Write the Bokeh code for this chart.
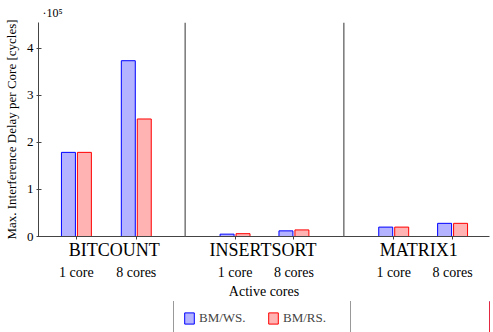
from bokeh.plotting import figure
from bokeh.layouts import column
from bokeh.models import (Range1d, Span, Legend, LegendItem, FixedTicker,
                          LinearAxis, ColumnDataSource, Title)
from bokeh.embed import file_html
from bokeh.resources import INLINE

# Benchmarks and active-core configurations
benchmarks = ["BITCOUNT", "INSERTSORT", "MATRIX1"]
core_labels = ["1 core", "8 cores", "1 core", "8 cores", "1 core", "8 cores"]
# Max. interference delay per core, in units of 1e5 cycles
bm_ws = [1.79, 3.74, 0.05, 0.12, 0.20, 0.28]
bm_rs = [1.79, 2.50, 0.06, 0.14, 0.20, 0.28]
y_ticks = [0, 1, 2, 3, 4]
series_names = ["BM/WS.", "BM/RS."]

# Layout (x in screen-pixel-sized units)
slot_x = [38, 98, 197, 256, 356, 415]
sep_x = [147, 306]
group_x = [76, 225, 381]
bar_w = 14
bar_off = 8

FONT = "Liberation Serif"
AXIS_COLOR = "#444444"
WS_STYLE = dict(fill_color="#b3b3ff", line_color="#0000ff", line_width=1)
RS_STYLE = dict(fill_color="#ffb3b3", line_color="#ff0000", line_width=1)

p = figure(width=493, height=301, output_backend="svg",
           toolbar_location=None,
           x_range=Range1d(0, 452), y_range=Range1d(0, 4.553),
           x_axis_location=None,
           min_border_left=34, min_border_right=4, min_border_top=22,
           min_border_bottom=0)
p.outline_line_color = None
p.xgrid.visible = False
p.ygrid.visible = False

src = ColumnDataSource(dict(
    x_ws=[x - bar_off for x in slot_x],
    x_rs=[x + bar_off for x in slot_x],
    ws=bm_ws, rs=bm_rs))

p.vbar(x="x_ws", top="ws", width=bar_w, source=src, **WS_STYLE)
p.vbar(x="x_rs", top="rs", width=bar_w, source=src, **RS_STYLE)

for sx in sep_x:
    p.add_layout(Span(location=sx, dimension="height", line_color="#777777",
                      line_width=1.5))

# y axis
ya = p.yaxis[0]
ya.ticker = FixedTicker(ticks=y_ticks)
ya.minor_tick_line_color = None
ya.major_tick_in = 3
ya.major_tick_out = 2
ya.axis_line_color = AXIS_COLOR
ya.major_tick_line_color = AXIS_COLOR
ya.major_label_text_font = FONT
ya.major_label_text_font_size = "13px"
ya.major_label_text_color = "black"
ya.major_label_standoff = 3
ya.axis_label = "Max. Interference Delay per Core [cycles]"
ya.axis_label_text_font = FONT
ya.axis_label_text_font_style = "normal"
ya.axis_label_text_font_size = "13px"
ya.axis_label_text_color = "black"
ya.axis_label_standoff = 5

# x axis line with a tick under every configuration
x_line = LinearAxis(ticker=FixedTicker(ticks=slot_x),
                    major_label_overrides={x: "" for x in slot_x},
                    major_label_text_font_size="1px",
                    major_label_standoff=0,
                    major_tick_in=0, major_tick_out=3,
                    minor_tick_line_color=None,
                    axis_line_color=AXIS_COLOR,
                    major_tick_line_color=AXIS_COLOR)
p.add_layout(x_line, "below")

# benchmark names
x_names = LinearAxis(ticker=FixedTicker(ticks=group_x),
                     major_label_overrides={x: n for x, n in zip(group_x, benchmarks)},
                     major_label_text_font=FONT,
                     major_label_text_font_size="18px",
                     major_label_text_color="black",
                     major_label_standoff=0,
                     major_tick_in=0, major_tick_out=0,
                     major_tick_line_color=None,
                     minor_tick_line_color=None,
                     axis_line_color=None)
p.add_layout(x_names, "below")

# core counts and axis title
x_cores = LinearAxis(ticker=FixedTicker(ticks=slot_x),
                     major_label_overrides={x: lab for x, lab in zip(slot_x, core_labels)},
                     major_label_text_font=FONT,
                     major_label_text_font_size="14px",
                     major_label_text_color="black",
                     major_label_standoff=2,
                     major_tick_in=0, major_tick_out=0,
                     major_tick_line_color=None,
                     minor_tick_line_color=None,
                     axis_line_color=None,
                     axis_label="Active cores",
                     axis_label_text_font=FONT,
                     axis_label_text_font_style="normal",
                     axis_label_text_font_size="14px",
                     axis_label_text_color="black",
                     axis_label_standoff=1)
p.add_layout(x_cores, "below")

# axis multiplier above the y axis
p.add_layout(Title(text="·10⁵", align="left", offset=4, standoff=6,
                   text_font=FONT, text_font_size="12px",
                   text_font_style="normal", text_color="black"), "above")

# legend strip under the chart; its bar renderers share the data but sit
# outside the strip's visible range, so only the legend entries show
lg = figure(width=493, height=40, output_backend="svg", toolbar_location=None,
            x_range=Range1d(-2000, -1000), y_range=Range1d(0, 1),
            min_border=0, x_axis_location=None, y_axis_location=None)
lg.outline_line_color = None
lg.xgrid.visible = False
lg.ygrid.visible = False
k_ws = lg.vbar(x="x_ws", top="ws", width=bar_w, source=src, **WS_STYLE)
k_rs = lg.vbar(x="x_rs", top="rs", width=bar_w, source=src, **RS_STYLE)

legend = Legend(items=[LegendItem(label=series_names[0], renderers=[k_ws]),
                       LegendItem(label=series_names[1], renderers=[k_rs])],
                orientation="horizontal", location=(135, 5),
                label_text_font=FONT, label_text_font_size="13px",
                glyph_width=12, glyph_height=14, label_standoff=4,
                label_width=58, label_height=14, spacing=10, padding=9,
                margin=0, background_fill_color="#ffffff",
                border_line_color="#333333", border_line_width=1)
lg.add_layout(legend, "center")

open("out.html", "w").write(file_html(column(p, lg, spacing=0), INLINE))
